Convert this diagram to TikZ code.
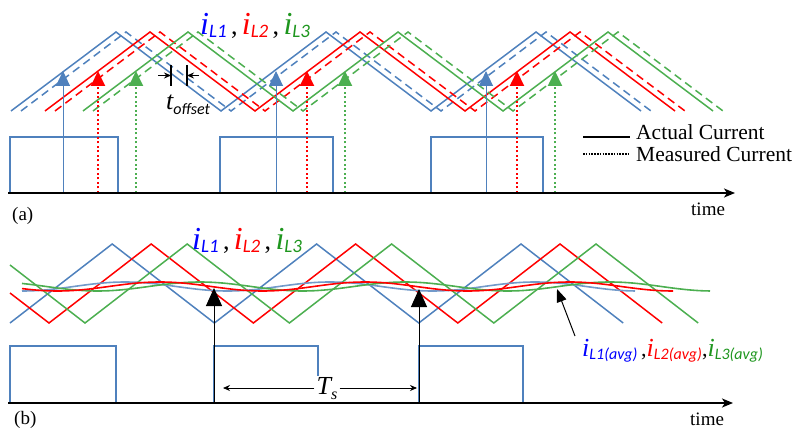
\documentclass[tikz,border=0pt]{standalone}
\usepackage{fontspec}
\setmainfont{Liberation Serif}
\newfontfamily\calib{Carlito}
\usetikzlibrary{arrows.meta}
\definecolor{cblue}{RGB}{79,129,189}
\definecolor{cred}{RGB}{255,0,0}
\definecolor{cgreen}{RGB}{76,175,80}
\definecolor{tblue}{RGB}{0,0,255}
\definecolor{tgreen}{RGB}{30,150,30}
\newcommand\mycur[4]{\textcolor{#1}{\fontsize{#3}{#3}\selectfont\itshape i\raisebox{-3pt}{\calib\fontsize{#4}{#4}\selectfont\itshape #2}}}
\tikzset{
  actual/.style={line width=1.5pt},
  measured/.style={line width=1.5pt, dash pattern=on 8pt off 5pt},
  pulse/.style={cblue, line width=1.3pt},
  axisline/.style={line width=1.8pt, -{Stealth[length=11pt,width=9pt,inset=3pt]}},
  dotarrow/.style={line width=2pt, dash pattern=on 2pt off 2.5pt, -{Triangle[width=14pt,length=15pt]}},
  solarrow/.style={line width=1pt, -{Triangle[width=14pt,length=15pt]}},
  blkarrow/.style={line width=1pt, -{Triangle[width=16pt,length=18pt]}},
  txt/.style={inner sep=0pt, anchor=base west},
}
\begin{document}
\begin{tikzpicture}[x=1pt,y=-1pt]
\useasboundingbox (0,0) rectangle (800,430);
% ---------------- (a) ----------------
\foreach \c/\s in {cblue/11,cred/45,cgreen/83}{
  \draw[\c, actual] (\s,111) -- ++(105,-79) -- ++(105,79) -- ++(105,-79) -- ++(105,79) -- ++(105,-79) -- ++(105,79);
  \draw[\c, measured] (\s+10,111) -- ++(105,-79) -- ++(105,79) -- ++(105,-79) -- ++(105,79) -- ++(105,-79) -- ++(105,79);
}
% pulses
\draw[pulse] (10,193) |- (118,137) -- (118,193);
\draw[pulse] (220,193) |- (333,137) -- (333,193);
\draw[pulse] (431,193) |- (543,137) -- (543,193);
% sample arrows
\foreach \x in {63,276,486}{\draw[cblue, solarrow] (\x,193) -- (\x,71);}
\foreach \x in {98,307,517}{\draw[cred, dotarrow] (\x,193) -- (\x,71);}
\foreach \x in {136,345,555}{\draw[cgreen, dotarrow] (\x,193) -- (\x,71);}
% axis
\coordinate (a0) at (8,193);
\coordinate (a1) at (735,193);
\draw[axisline] (a0) -- (a1);
\node[txt, font=\fontsize{19}{19}\selectfont] (ta) at (691,216) {time};
\node[txt, font=\fontsize{19}{19}\selectfont] (la) at (12,221) {(a)};
% t offset
\draw[line width=2pt] (171,65) -- (171,86);
\draw[line width=2pt] (187,65) -- (187,86);
\draw[line width=0.8pt, -{Stealth[length=7pt,width=6pt]}] (158,75.5) -- (171,75.5);
\draw[line width=0.8pt, -{Stealth[length=7pt,width=6pt]}] (199,75.5) -- (187,75.5);
\node[txt] (toff) at (166,110) {{\fontsize{26}{26}\selectfont\itshape t}\raisebox{-5pt}{\calib\fontsize{16}{16}\selectfont\itshape offset}};
% current labels
\node[txt] (lab1) at (200,35) {\mycur{tblue}{L1}{32}{19}{\fontsize{26}{26}\selectfont\,,\,}\mycur{cred}{L2}{32}{19}{\fontsize{26}{26}\selectfont\,,\,}\mycur{tgreen}{L3}{32}{19}};
% legend
\draw[line width=2pt] (583,137) -- (630,137);
\draw[line width=1.8pt, dash pattern=on 1.5pt off 1.3pt] (583,154) -- (630,154);
\node[txt, font=\fontsize{21.5}{21.5}\selectfont] (leg1) at (636,139.5) {Actual Current};
\node[txt, font=\fontsize{21.5}{21.5}\selectfont] (leg2) at (636,161.5) {Measured Current};
% ---------------- (b) ----------------
\draw[cblue, actual] (10,323) -- ++(102.2,-79) -- ++(102.2,79) -- ++(102.2,-79) -- ++(102.2,79) -- ++(102.2,-79) -- ++(102.2,79);
\draw[cred, actual] (10,293) -- (49,323) -- ++(102.2,-79) -- ++(102.2,79) -- ++(102.2,-79) -- ++(102.2,79) -- ++(102.2,-79) -- ++(102.2,79);
\draw[cgreen, actual] (10,265) -- (85,323) -- ++(102.2,-79) -- ++(102.2,79) -- ++(102.2,-79) -- ++(102.2,79) -- ++(102.2,-79) -- ++(102.2,79);
% averages
\draw[cblue!80!white, line width=1.6pt] plot[domain=22:635, samples=90, smooth] (\x, {286.5-4.5*cos((\x-125)/205*360)});
\draw[cgreen, line width=1.6pt] plot[domain=22:710, samples=90, smooth] (\x, {286.5-4.5*cos((\x-200)/205*360)});
\draw[cred, line width=1.6pt] plot[domain=22:673, samples=90, smooth] (\x, {286.5-4.5*cos((\x-160)/205*360)});
% pulses
\draw[pulse] (10,403) |- (116,346) -- (116,403);
\draw[pulse] (214,403) |- (318,346) -- (318,403);
\draw[pulse] (419,403) |- (523,346) -- (523,403);
% arrows
\draw[blkarrow] (214,403) -- (214,288);
\draw[blkarrow] (419,403) -- (419,289);
% axis
\coordinate (b0) at (8,403);
\coordinate (b1) at (733,403);
\draw[axisline] (b0) -- (b1);
\node[txt, font=\fontsize{19}{19}\selectfont] (tb) at (690,425) {time};
\node[txt, font=\fontsize{19}{19}\selectfont] (lb) at (14,424) {(b)};
% Ts
\node[inner sep=2pt, fill=white] (ts) at (327,389) {\fontsize{26}{26}\selectfont\itshape T\raisebox{-5pt}{\fontsize{16}{16}\selectfont s}};
\coordinate (tsl) at (223,388);
\coordinate (tsr) at (417,388);
\draw[line width=0.8pt, -{Stealth[length=7pt,width=6pt]}] (ts.west |- tsl) -- (tsl);
\draw[line width=0.8pt, -{Stealth[length=7pt,width=6pt]}] (ts.east |- tsr) -- (tsr);
% avg label
\node[txt] (lavg) at (582,356) {\mycur{tblue}{L1(avg)}{26}{16}{\fontsize{22}{22}\selectfont\,,}\mycur{cred}{L2(avg)}{26}{16}{\fontsize{22}{22}\selectfont,}\mycur{tgreen}{L3(avg)}{26}{16}};
\coordinate (avgtip) at (557,289);
\draw[line width=1pt, -{Triangle[width=10pt,length=13pt]}] (575,336) -- (avgtip);
% current labels (b)
\node[txt] (lab2) at (192,250) {\mycur{tblue}{L1}{32}{19}{\fontsize{26}{26}\selectfont\,,\,}\mycur{cred}{L2}{32}{19}{\fontsize{26}{26}\selectfont\,,\,}\mycur{tgreen}{L3}{32}{19}};
\end{tikzpicture}
\end{document}
